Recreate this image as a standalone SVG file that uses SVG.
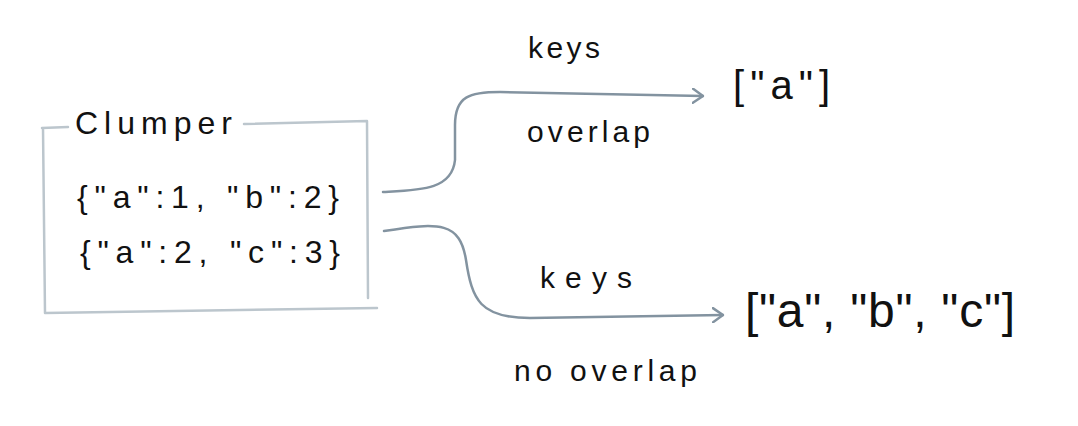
<svg xmlns="http://www.w3.org/2000/svg" width="1078" height="426" viewBox="0 0 1078 426">
<style>
.t{font-family:"Liberation Sans",Arial,sans-serif;fill:#111;}
.box{fill:none;stroke:#bcc6cd;stroke-width:2.5;stroke-linecap:round;stroke-linejoin:round;}
.con{fill:none;stroke:#8393a0;stroke-width:2.5;stroke-linecap:round;stroke-linejoin:round;}
</style>
<defs>
<marker id="arr" viewBox="0 0 12 16" refX="11" refY="8" markerWidth="12" markerHeight="16" markerUnits="userSpaceOnUse" orient="auto">
<path d="M1,1 L11,8 L1,15" fill="none" stroke="#8393a0" stroke-width="2.5" stroke-linecap="round" stroke-linejoin="round"/>
</marker>
</defs>
<rect width="1078" height="426" fill="#fff"/>
<g id="clumper">
<path class="box" d="M42,128 L68,127 M244,124 L367,121 L368,298 M377,308 L45,313 L43,128"/>
<text class="t" x="75" y="134" font-size="32" textLength="157" lengthAdjust="spacing">Clumper</text>
<text class="t" x="77" y="208" font-size="32" textLength="262" lengthAdjust="spacing">{"a":1, "b":2}</text>
<text class="t" x="80" y="263" font-size="32" textLength="260" lengthAdjust="spacing">{"a":2, "c":3}</text>
</g>
<g id="connectors">
<path class="con" marker-end="url(#arr)" d="M383,192 C420,190 452,190 455,160 L455,125 C455,96 470,92 500,92 L703,96"/>
<path class="con" marker-end="url(#arr)" d="M384,231 C440,222 460,222 466,260 C472,300 480,318 530,318 L723,315"/>
<text class="t" x="528" y="58" font-size="30" textLength="72" lengthAdjust="spacing">keys</text>
<text class="t" x="527" y="142" font-size="30" textLength="123" lengthAdjust="spacing">overlap</text>
<text class="t" x="540" y="288" font-size="30" textLength="92" lengthAdjust="spacing">keys</text>
<text class="t" x="514" y="381" font-size="30" textLength="183" lengthAdjust="spacing">no overlap</text>
</g>
<g id="result-overlap">
<text class="t" x="733" y="99" font-size="40" textLength="97" lengthAdjust="spacing">["a"]</text>
</g>
<g id="result-no-overlap">
<text class="t" x="745" y="327" font-size="48" textLength="270" lengthAdjust="spacing">["a", "b", "c"]</text>
</g>
</svg>
